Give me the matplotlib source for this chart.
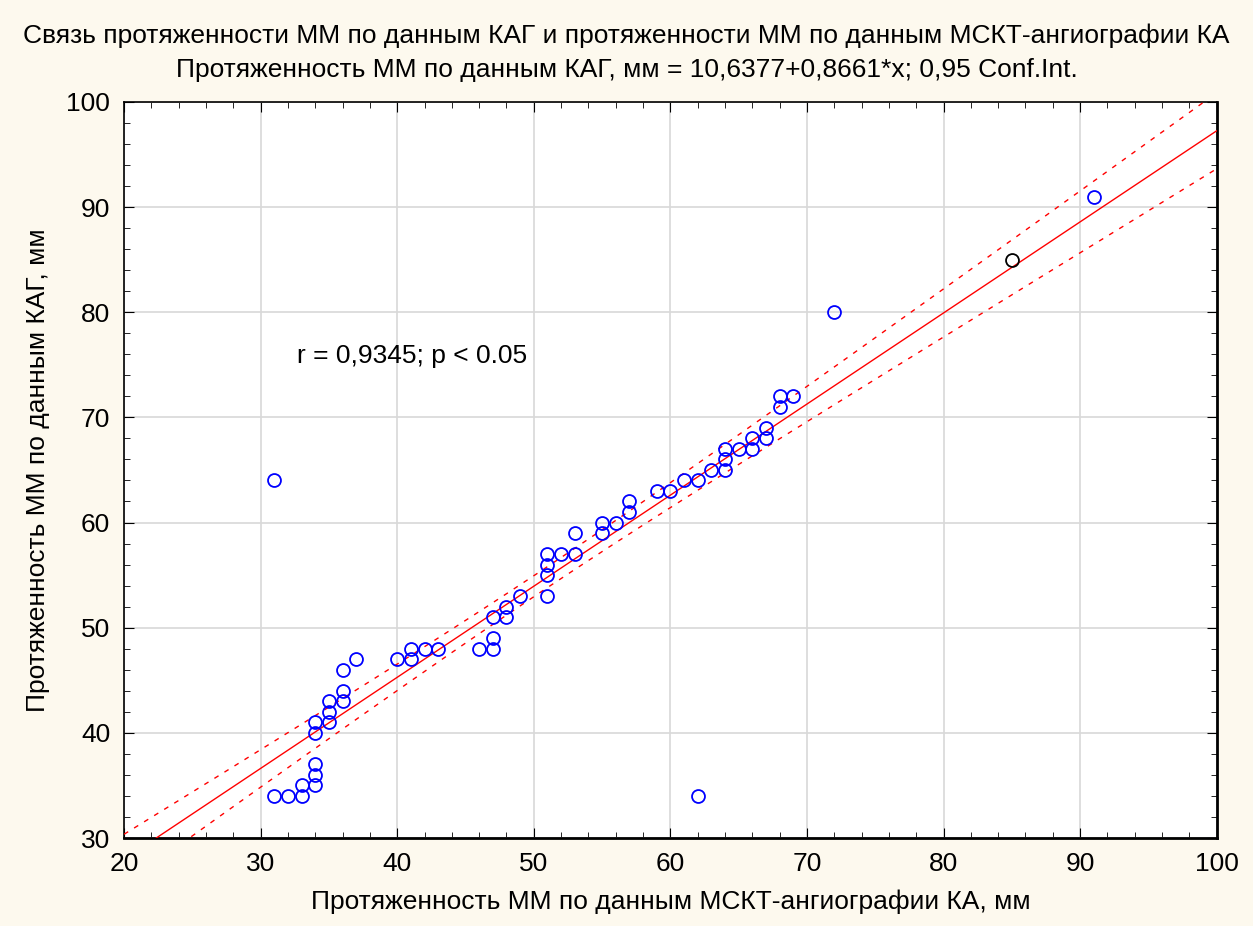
import numpy as np
import matplotlib.pyplot as plt
from matplotlib.ticker import MultipleLocator

# Протяженность ММ: МСКТ-ангиография (x) и КАГ (y), мм
mskt = [31, 32, 33, 33, 34, 34, 34, 34, 34, 35, 35, 35, 36, 36, 36, 37,
        40, 41, 41, 42, 43, 46, 47, 47, 47, 48, 48, 49, 51, 51, 51, 51,
        52, 53, 53, 55, 55, 56, 57, 57, 59, 60, 61, 62, 63, 64, 64, 64,
        65, 66, 66, 67, 67, 68, 68, 69, 72, 91, 31, 62]
kag = [34, 34, 34, 35, 35, 36, 37, 40, 41, 41, 42, 43, 43, 44, 46, 47,
       47, 47, 48, 48, 48, 48, 48, 49, 51, 51, 52, 53, 53, 55, 56, 57,
       57, 57, 59, 59, 60, 60, 61, 62, 63, 63, 64, 64, 65, 65, 66, 67,
       67, 67, 68, 68, 69, 71, 72, 72, 80, 91, 64, 34]
# отмеченная точка
sel_x = [85]
sel_y = [85]

# параметры регрессии из заголовка
intercept = 10.6377
slope = 0.8661
r_value = 0.9345
n_obs = 90  # многие точки совпадают и не видны на графике

title1 = "Связь протяженности ММ по данным КАГ и протяженности ММ по данным МСКТ-ангиографии КА"
title2 = "Протяженность ММ по данным КАГ, мм = 10,6377+0,8661*x; 0,95 Conf.Int."
xlabel = "Протяженность ММ по данным МСКТ-ангиографии КА, мм"
ylabel = "Протяженность ММ по данным КАГ, мм"
note = "r = 0,9345; p < 0.05"

plt.rcParams['font.family'] = ['Liberation Sans', 'DejaVu Sans']
FS = 19

# 95% доверительный интервал линии регрессии
x_all = np.array(mskt + sel_x, dtype=float)
y_all = np.array(kag + sel_y, dtype=float)
xm = x_all.mean()
var_x = x_all.var(ddof=1)
var_y = y_all.var(ddof=1)
s2 = (1 - r_value ** 2) * var_y * (n_obs - 1) / (n_obs - 2)
t = 1.987

xs = np.linspace(20, 100, 200)
fit = intercept + slope * xs
half = t * np.sqrt(s2 * (1 / n_obs + (xs - xm) ** 2 / ((n_obs - 1) * var_x)))

fig = plt.figure(figsize=(12.53, 9.26), dpi=100, facecolor='#fdf9ee')
ax = fig.add_axes([0.099, 0.095, 0.872, 0.795])
ax.set_facecolor('white')

ax.plot(xs, fit, color='red', lw=1, zorder=3)
ax.plot(xs, fit + half, color='red', lw=1, ls=(0, (3.5, 5)), zorder=3)
ax.plot(xs, fit - half, color='red', lw=1, ls=(0, (3.5, 5)), zorder=3)

ax.plot(mskt, kag, 'o', ms=9.3, mfc='none', mec='#0000ff', mew=1.3, zorder=4)
ax.plot(sel_x, sel_y, 'o', ms=9.3, mfc='none', mec='black', mew=1.3, zorder=4)

ax.set_xlim(20, 100)
ax.set_ylim(30, 100)
ax.xaxis.set_major_locator(MultipleLocator(10))
ax.yaxis.set_major_locator(MultipleLocator(10))
ax.xaxis.set_minor_locator(MultipleLocator(2))
ax.yaxis.set_minor_locator(MultipleLocator(2))
ax.tick_params(which='major', direction='in', length=7, labelsize=FS, pad=10,
               top=True, right=True, colors='black')
ax.tick_params(which='minor', direction='in', length=4, top=True, right=True)
ax.grid(True, which='major', color='#d8d8d8', lw=1.2)
ax.set_axisbelow(True)
for side, sp in ax.spines.items():
    sp.set_color('black')
    sp.set_linewidth(2 if side in ('right', 'bottom') else 1.2)

ax.text(32.7, 75.8, note, fontsize=FS, va='center', ha='left')

fig.text(0.5, 0.961, title1, ha='center', va='center', fontsize=FS)
fig.text(0.5, 0.924, title2, ha='center', va='center', fontsize=FS)
ax.set_xlabel(xlabel, fontsize=FS, labelpad=10)
ax.set_ylabel(ylabel, fontsize=FS, labelpad=12)

fig.savefig('out.png', dpi=100, facecolor=fig.get_facecolor())
